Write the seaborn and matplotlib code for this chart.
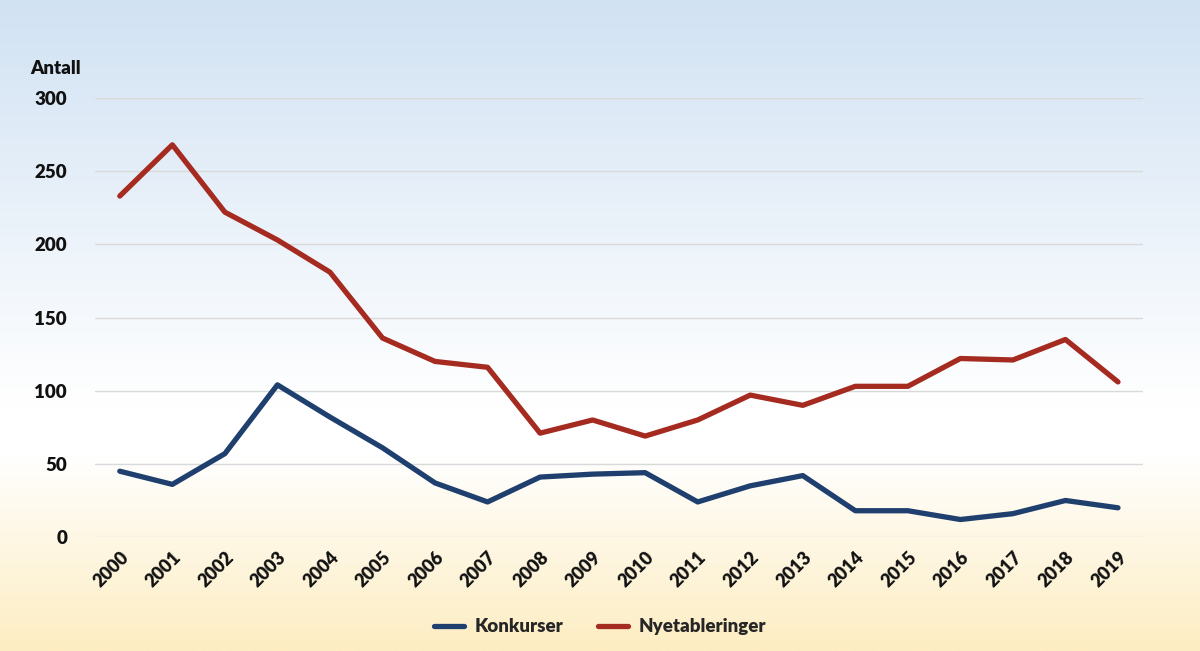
import numpy as np
import pandas as pd
import matplotlib
matplotlib.use("Agg")
import matplotlib.pyplot as plt
import seaborn as sns
from matplotlib.colors import LinearSegmentedColormap

years = list(range(2000, 2020))
konkurser = [45, 36, 57, 104, 82, 61, 37, 24, 41, 43, 44, 24, 35, 42, 18, 18, 12, 16, 25, 20]
nyetableringer = [233, 268, 222, 203, 181, 136, 120, 116, 71, 80, 69, 80, 97, 90, 103, 103, 122, 121, 135, 106]
series_names = ["Konkurser", "Nyetableringer"]
colors = ["#1f3f6e", "#a52a20"]
yticks = [0, 50, 100, 150, 200, 250, 300]

df = pd.DataFrame({
    "År": years * 2,
    "Antall": konkurser + nyetableringer,
    "Serie": [series_names[0]] * len(years) + [series_names[1]] * len(years),
})

sns.set_theme(style="white")
plt.rcParams["font.family"] = ["Lato", "DejaVu Sans"]
W = 800

fig = plt.figure(figsize=(12, 6.51), dpi=100)

# gradient background
bg = fig.add_axes([0, 0, 1, 1], zorder=-10)
cmap = LinearSegmentedColormap.from_list(
    "bg", [(0.0, "#d1e2f3"), (0.62, "#ffffff"), (0.70, "#ffffff"), (1.0, "#fdedc2")]
)
grad = np.linspace(0, 1, 256).reshape(-1, 1)
bg.imshow(grad, aspect="auto", cmap=cmap, extent=[0, 1, 1, 0])
bg.set_axis_off()

ax = fig.add_axes([0.079, 0.175, 0.8735, 0.6745])
ax.patch.set_alpha(0)
sns.lineplot(data=df, x="År", y="Antall", hue="Serie", palette=colors,
             linewidth=3.8, ax=ax, legend=True)

ax.set_ylim(0, 300)
ax.set_xlim(years[0] - 0.476, years[-1] + 0.476)
ax.set_yticks(yticks)
ax.set_yticklabels([str(v) for v in yticks], fontsize=13.5, fontweight=W, color="#111111")
ax.set_xticks(years)
ax.set_xticklabels([str(y) for y in years], rotation=45, ha="right", rotation_mode="anchor",
                   fontsize=13, fontweight=W, color="#111111")
ax.tick_params(axis="both", length=0)
ax.tick_params(axis="y", pad=20)
ax.tick_params(axis="x", pad=8)
ax.grid(axis="y", color="#d9d9d9", linewidth=1)
ax.grid(axis="x", visible=False)
for s in ax.spines.values():
    s.set_visible(False)
ax.set_xlabel("")
ax.set_ylabel("")

fig.text(0.025, 0.895, "Antall", fontsize=13.5, fontweight=W, color="#111111", ha="left", va="center")

handles, labels = ax.get_legend_handles_labels()
ax.legend(handles, labels, loc="center", bbox_to_anchor=(0.5, 0.037), bbox_transform=fig.transFigure,
          ncol=2, frameon=False, prop={"size": 13.5, "weight": W}, handlelength=1.6,
          columnspacing=1.8, handletextpad=0.6)

fig.savefig("out.png", dpi=100)
